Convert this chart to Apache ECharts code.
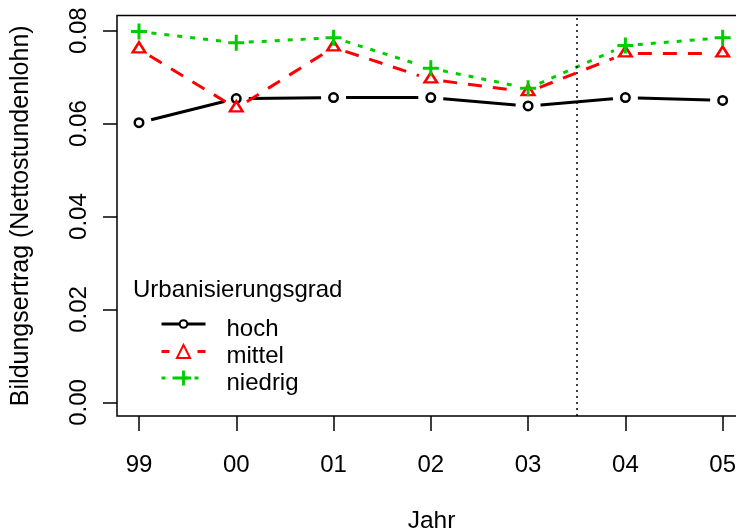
<!DOCTYPE html>
<html>
<head>
<meta charset="utf-8">
<script src="https://cdn.jsdelivr.net/npm/echarts@6/dist/echarts.min.js"></script>
<style>
  html, body { margin: 0; padding: 0; background: #ffffff; }
  #chart { width: 736px; height: 531px; }
</style>
</head>
<body>
<div id="chart"></div>
<script>
// Survey years (two-digit) along the x axis
const years = ['99', '00', '01', '02', '03', '04', '05'];

// Returns to education by degree of urbanisation
const hoch    = [0.0602, 0.0654, 0.0656, 0.0656, 0.0638, 0.0656, 0.0650];
const mittel  = [0.0760, 0.0633, 0.0764, 0.0695, 0.0668, 0.0751, 0.0751];
const niedrig = [0.0798, 0.0774, 0.0785, 0.0719, 0.0676, 0.0768, 0.0785];

// Y axis tick values
const yTicks = [0, 0.02, 0.04, 0.06, 0.08];

// Dotted separator between 03 and 04
const breakPosition = 4.5;

const legendTitle = 'Urbanisierungsgrad';
const xTitle = 'Jahr';
const yTitle = 'Bildungsertrag (Nettostundenlohn)';

const FONT = 'Liberation Sans, Arial, Helvetica, sans-serif';
const GAP = 12.5;          // space left around each point (type "b" look)
const LINE_W = 3;

const plusPath = 'path://M6.5,0H9.5V6.5H16V9.5H9.5V16H6.5V9.5H0V6.5H6.5Z';

const groups = [
  {
    name: 'hoch', values: hoch, color: '#000000', dash: null,
    symbol: 'circle', symbolSize: 8.5, symbolOffset: [0, 0],
    itemStyle: { color: '#ffffff', borderColor: '#000000', borderWidth: 2.5 },
    legendTop: 311.5, legendH: 9.5, legendDash: 'solid'
  },
  {
    name: 'mittel', values: mittel, color: '#ff0000', dash: [14, 11],
    symbol: 'triangle', symbolSize: [12.5, 10], symbolOffset: [0, -2],
    itemStyle: { color: '#ffffff', borderColor: '#ff0000', borderWidth: 2.5 },
    legendTop: 339, legendH: 16.5, legendDash: [8, 28]
  },
  {
    name: 'niedrig', values: niedrig, color: '#00cd00', dash: [5, 8],
    symbol: plusPath, symbolSize: 16, symbolOffset: [0, 0],
    itemStyle: { color: '#00cd00', borderWidth: 0 },
    legendTop: 365.5, legendH: 19, legendDash: [4, 7]
  }
];

// Connecting segments, shortened at both ends so they stop short of the points
function segmentSeries(g) {
  const data = g.values.slice(0, -1).map((v, i) => [i, v, i + 1, g.values[i + 1]]);
  return {
    type: 'custom',
    name: g.name + '_seg',
    data: data,
    encode: { x: [0, 2], y: [1, 3] },
    silent: true,
    animation: false,
    renderItem: function (params, api) {
      const a = api.coord([api.value(0), api.value(1)]);
      const b = api.coord([api.value(2), api.value(3)]);
      const dx = b[0] - a[0], dy = b[1] - a[1];
      const len = Math.hypot(dx, dy);
      const ux = dx / len, uy = dy / len;
      return {
        type: 'line',
        shape: {
          x1: a[0] + ux * GAP, y1: a[1] + uy * GAP,
          x2: b[0] - ux * GAP, y2: b[1] - uy * GAP
        },
        style: {
          stroke: g.color, lineWidth: LINE_W,
          lineDash: g.dash, lineCap: 'butt', fill: null
        }
      };
    }
  };
}

function pointSeries(g, withBreak) {
  const s = {
    type: 'line',
    name: g.name,
    data: g.values.map((v, i) => [i, v]),
    symbol: g.symbol,
    symbolSize: g.symbolSize,
    symbolOffset: g.symbolOffset,
    showAllSymbol: true,
    itemStyle: g.itemStyle,
    lineStyle: { width: 0, opacity: 0 },
    emphasis: { disabled: true },
    silent: true,
    animation: false
  };
  if (withBreak) {
    s.markLine = {
      silent: true,
      symbol: ['none', 'none'],
      label: { show: false },
      lineStyle: { color: '#000000', width: 1.5, type: [2, 4] },
      data: [{ xAxis: breakPosition }]
    };
  }
  return s;
}

const series = [];
groups.forEach((g, k) => {
  series.push(segmentSeries(g));
  series.push(pointSeries(g, k === 0));
});

// Legend entries: a thin spacer line above each label drops the text
// slightly below the key symbol
const legends = groups.map(g => ({
  left: 160,
  top: g.legendTop,
  orient: 'vertical',
  padding: 0,
  itemWidth: 44,
  itemHeight: g.legendH,
  selectedMode: false,
  data: [{
    name: g.name,
    lineStyle: { color: g.color, width: LINE_W, type: g.legendDash, opacity: 1 }
  }],
  formatter: name => '{s| }\n{t|' + name + '}',
  textStyle: {
    padding: [0, 0, 0, 16],
    rich: {
      s: { fontSize: 1, lineHeight: 10 },
      t: { fontFamily: FONT, fontSize: 24, color: '#000000', lineHeight: 24 }
    }
  }
}));

const option = {
  backgroundColor: '#ffffff',
  animation: false,
  title: {
    text: legendTitle,
    left: 133,
    top: 278,
    padding: 0,
    textStyle: { fontFamily: FONT, fontSize: 24, fontWeight: 'normal', color: '#000000', lineHeight: 24 }
  },
  legend: legends,
  grid: {
    left: 117, top: 15.5, width: 629, height: 400.5,
    show: true, borderColor: '#000000', borderWidth: 1.5,
    backgroundColor: 'transparent', containLabel: false,
    outerBoundsMode: 'none'
  },
  xAxis: {
    type: 'value',
    min: -0.226,
    max: 6.24,
    name: xTitle,
    nameLocation: 'middle',
    nameGap: 93,
    nameTextStyle: { fontFamily: FONT, fontSize: 24.5, color: '#000000', lineHeight: 24 },
    axisLine: { show: false, onZero: false },
    splitLine: { show: false },
    axisTick: {
      show: true, length: 15, inside: false,
      customValues: years.map((_, i) => i),
      lineStyle: { color: '#000000', width: 1.5 }
    },
    axisLabel: {
      customValues: years.map((_, i) => i),
      formatter: v => years[Math.round(v)],
      margin: 37,
      fontFamily: FONT, fontSize: 24, color: '#000000', lineHeight: 24
    }
  },
  yAxis: {
    type: 'value',
    min: -0.00293,
    max: 0.08327,
    name: yTitle,
    nameLocation: 'middle',
    nameRotate: 90,
    nameGap: 83,
    nameTextStyle: { fontFamily: FONT, fontSize: 25, color: '#000000', lineHeight: 25 },
    axisLine: { show: false, onZero: false },
    splitLine: { show: false },
    axisTick: {
      show: true, length: 14, inside: false,
      customValues: yTicks,
      lineStyle: { color: '#000000', width: 1.5 }
    },
    axisLabel: {
      customValues: yTicks,
      formatter: v => v.toFixed(2),
      rotate: 90,
      margin: 26,
      fontFamily: FONT, fontSize: 24, color: '#000000', lineHeight: 24
    }
  },
  series: series
};

const chart = echarts.init(document.getElementById('chart'), null, { renderer: 'canvas' });
chart.setOption(option);
</script>
</body>
</html>
